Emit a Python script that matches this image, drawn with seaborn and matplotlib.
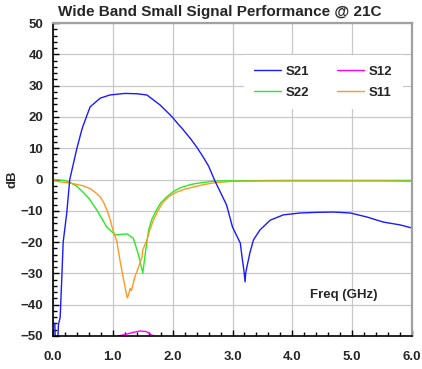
import numpy as np
import pandas as pd
import matplotlib
matplotlib.use("Agg")
import matplotlib.pyplot as plt
import seaborn as sns
from matplotlib.ticker import MultipleLocator, FormatStrFormatter
from matplotlib.lines import Line2D

# ---- data ----
s21_f = [0.0, 0.03, 0.04, 0.08, 0.09, 0.12, 0.15, 0.17, 0.23, 0.28, 0.4, 0.48, 0.5, 0.62, 0.79,
         0.95, 1.2, 1.4, 1.57, 1.79, 1.96, 2.0, 2.1, 2.15, 2.3, 2.4, 2.5, 2.6, 2.7, 2.9, 3.0,
         3.13, 3.16, 3.19, 3.21, 3.22, 3.24, 3.29, 3.35, 3.46, 3.63, 3.85, 4.13, 4.4, 4.69,
         4.97, 5.25, 5.52, 5.8, 6.0]
s21_db = [-46, -46, -52, -52, -46.5, -44, -30, -20, -10.7, 0.0, 10, 15.8, 17, 23.2, 26,
          27.0, 27.5, 27.4, 27.0, 23.8, 20.6, 19.8, 17.5, 16.5, 13, 10.4, 7.5, 4.3, -0.2, -8.1, -15.2,
          -20.3, -24.8, -29, -32.7, -30, -28, -23.5, -19.3, -16.1, -13, -11.3, -10.7, -10.5, -10.4,
          -10.7, -12.0, -13.6, -14.5, -15.5]

s12_f = [1.0, 1.09, 1.23, 1.35, 1.46, 1.56, 1.68, 1.75]
s12_db = [-51, -50, -49.4, -48.8, -48.4, -48.6, -50, -51]

s22_f = [0.0, 0.2, 0.28, 0.4, 0.5, 0.6, 0.73, 0.9, 1.04, 1.15, 1.24, 1.3, 1.34, 1.42, 1.45,
         1.5, 1.52, 1.55, 1.6, 1.65, 1.73, 1.8, 1.9, 2.0, 2.12, 2.3, 2.45, 2.7, 3.0, 4.0, 5.0, 6.0]
s22_db = [0.0, -0.3, -0.9, -2.2, -4.0, -6.0, -9.7, -15.2, -17.7, -17.5, -17.4, -18.2, -18.7, -23.5, -25.7,
          -29.9, -27, -22.5, -16, -12.8, -9.7, -7.5, -5.6, -4.0, -2.7, -1.6, -1.1, -0.5, -0.4, -0.3, -0.3, -0.3]

s11_f = [0.0, 0.1, 0.28, 0.5, 0.62, 0.7, 0.79, 0.85, 0.9, 0.95, 1.0, 1.07, 1.09, 1.13, 1.17,
         1.21, 1.24, 1.26, 1.29, 1.31, 1.33, 1.37, 1.43, 1.49, 1.5, 1.57, 1.62, 1.68, 1.76, 1.84,
         1.95, 2.07, 2.2, 2.35, 2.5, 2.68, 2.85, 3.0, 3.5, 4.5, 5.5, 6.0]
s11_db = [-0.3, -0.7, -1.1, -2.0, -2.9, -4.0, -5.6, -7.5, -9.7, -12.5, -16, -20, -22.5, -27, -31,
          -35, -37.8, -37, -34.8, -35.5, -34, -31, -28, -24.7, -22.5, -19.3, -16, -12.9, -9.8, -7.2,
          -5.3, -4.0, -3.1, -2.4, -1.7, -1.1, -0.8, -0.6, -0.5, -0.5, -0.5, -0.6]

series_names = ["S21", "S12", "S22", "S11"]
colors = {"S21": "#1a1aff", "S12": "#ff00ff", "S22": "#22ee22", "S11": "#ff9922"}

x_ticks = [0, 1, 2, 3, 4, 5, 6]
y_ticks = [-50, -40, -30, -20, -10, 0, 10, 20, 30, 40, 50]

# ---- figure ----
sns.set_style("white")
plt.rcParams["font.family"] = ["Liberation Sans", "DejaVu Sans"]
plt.rcParams["font.weight"] = "bold"

fig = plt.figure(figsize=(4.22, 3.69), dpi=100)
ax = fig.add_axes([53 / 422, 1 - 336 / 369, 359 / 422, 313 / 369])

data = {
    "S21": (s21_f, s21_db),
    "S12": (s12_f, s12_db),
    "S22": (s22_f, s22_db),
    "S11": (s11_f, s11_db),
}
for name in ["S12", "S22", "S11", "S21"]:
    f, d = data[name]
    df = pd.DataFrame({"f": f, "dB": d})
    sns.lineplot(data=df, x="f", y="dB", ax=ax, color=colors[name], lw=1.0,
                 sort=False, estimator=None, legend=False)

ax.set_xlim(0, 6)
ax.set_ylim(-50, 50)
ax.set_xticks(x_ticks)
ax.set_yticks(y_ticks)
ax.xaxis.set_major_formatter(FormatStrFormatter("%.1f"))
ax.xaxis.set_minor_locator(MultipleLocator(0.2))
ax.yaxis.set_minor_locator(MultipleLocator(2))
ax.tick_params(axis="both", which="both", bottom=True, left=True, top=False, right=False)
ax.tick_params(axis="both", which="major", direction="in", length=4, width=1,
               labelsize=9.5, color="black")
ax.tick_params(axis="both", which="minor", direction="in", length=3, width=1, color="black")
ax.tick_params(axis="y", which="major", pad=7)
ax.tick_params(axis="x", which="major", pad=11)
for lab in ax.get_xticklabels() + ax.get_yticklabels():
    lab.set_fontweight("bold")
ax.grid(True, which="major", color="#c8c8c8", lw=0.9)
ax.set_axisbelow(True)

for s in ["left", "bottom"]:
    ax.spines[s].set_color("black")
    ax.spines[s].set_linewidth(1.2)
for s in ["top", "right"]:
    ax.spines[s].set_color("#a0a0a0")
    ax.spines[s].set_linewidth(1.6)

ax.set_xlabel("")
ax.set_ylabel("dB", fontsize=9.5, fontweight="bold")
ax.yaxis.set_label_coords(-0.097, 0.5)
ax.set_title("Wide Band Small Signal Performance @ 21C", fontsize=11,
             fontweight="bold", x=0.465, pad=5)
ax.text(4.3, -37, "Freq (GHz)", fontsize=9.5, fontweight="bold", va="center", ha="left")

order = ["S21", "S22", "S12", "S11"]
handles = [Line2D([], [], color=colors[n], lw=1.0) for n in order]
leg = ax.legend(handles, order, ncol=2, loc="upper right", bbox_to_anchor=(0.975, 0.898),
                borderaxespad=0, frameon=True, facecolor="white", edgecolor="none",
                framealpha=1, fancybox=False, prop={"weight": "bold", "size": 9.5},
                handlelength=2.0, handletextpad=0.4, columnspacing=2.1,
                labelspacing=0.65, borderpad=0.8)

fig.savefig("out.png", dpi=100)
